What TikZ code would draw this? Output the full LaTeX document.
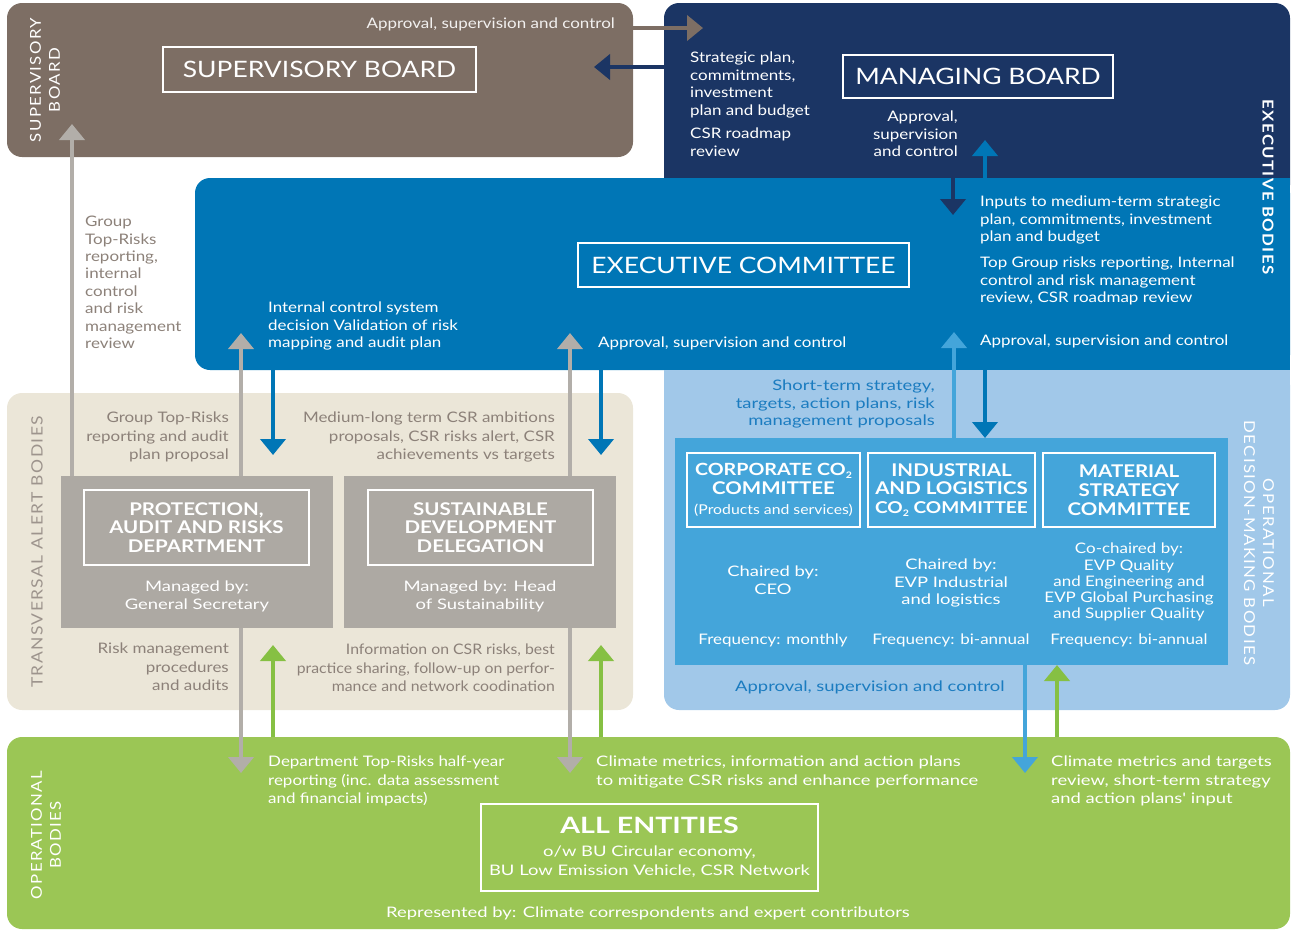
\documentclass[tikz,border=0pt]{standalone}
\usepackage{fontspec}
\setmainfont{Lato}[FakeStretch=1.17]
\newfontfamily\widefont{Lato}[FakeStretch=1.27]
\newfontfamily\narrowfont{Lato}[FakeStretch=1.09]
\newfontfamily\sidefont{Lato}[FakeStretch=1.12,LetterSpace=9]
\usetikzlibrary{arrows.meta}

\definecolor{supbrown}{HTML}{7D6E64}
\definecolor{mbnavy}{HTML}{1B3564}
\definecolor{exblue}{HTML}{0076B6}
\definecolor{opblue}{HTML}{A1C8E9}
\definecolor{cmblue}{HTML}{44A5DA}
\definecolor{tabeige}{HTML}{EBE6D8}
\definecolor{tabox}{HTML}{ADA9A3}
\definecolor{grayarrow}{HTML}{B2AEA9}
\definecolor{graytext}{HTML}{8C8179}
\definecolor{obgreen}{HTML}{9BC655}
\definecolor{greenarrow}{HTML}{86C043}
\definecolor{bluetext}{HTML}{1B7CC0}

\newcommand{\cotwo}{CO{\fontsize{9}{9}\selectfont\raisebox{-3pt}{2}}}

\tikzset{
  txt/.style={font=\fontsize{14.5}{17.4}\selectfont, inner sep=0pt},
  widetxt/.style={font=\widefont\fontsize{14.5}{17.4}\selectfont, inner sep=0pt},
  wtxt/.style={font=\fontsize{14.5}{18.5}\selectfont, inner sep=0pt},
  titlebox/.style={draw=white, line width=1.4pt, text=white, inner sep=0pt,
    font=\fontsize{22.6}{26}\selectfont},
  cmtitle/.style={draw=white, line width=1.2pt, text=white, align=center, inner sep=0pt,
    font=\bfseries\fontsize{17.5}{18.8}\selectfont},
  side/.style={text=white, align=center, inner sep=0pt, font=\sidefont\fontsize{15}{19}\selectfont},
  flow/.style={line width=4pt, -{Triangle[length=16pt,width=25pt]}},
}

\begin{document}
\begin{tikzpicture}[x=1pt,y=-1pt]
\useasboundingbox (0,0) rectangle (1292,930);

% bodies
\fill[supbrown, rounded corners=15] (7,3) rectangle (633,157);
\fill[mbnavy, rounded corners=15] (664,3) rectangle (1290,200);
\fill[exblue, rounded corners=15] (195,178) rectangle (1290,370);
\fill[exblue] (1250,178) rectangle (1290,370);
\fill[opblue, rounded corners=15] (664,370) rectangle (1290,710);
\fill[opblue] (664,370) rectangle (1290,400);
\fill[tabeige, rounded corners=15] (7,393) rectangle (633,710);
\fill[obgreen, rounded corners=15] (7,737) rectangle (1290,929);
\fill[cmblue] (675,438) rectangle (1228,665);
\fill[tabox] (61,476) rectangle (333,628);
\fill[tabox] (344,476) rectangle (616,628);

% arrow ends
\coordinate (gr0) at (72,476);   \coordinate (gr1) at (72,124);
\coordinate (sv0) at (633,28);   \coordinate (sv1) at (703,28);
\coordinate (mg0) at (664,67);   \coordinate (mg1) at (594,67);
\coordinate (ec0) at (985,178);  \coordinate (ec1) at (985,140);
\coordinate (ei0) at (953,178);  \coordinate (ei1) at (953,215);
\coordinate (pu0) at (241,476);  \coordinate (pu1) at (241,333);
\coordinate (su0) at (570,476);  \coordinate (su1) at (570,333);
\coordinate (pd0) at (273,370);  \coordinate (pd1) at (273,455);
\coordinate (sd0) at (601,370);  \coordinate (sd1) at (601,455);
\coordinate (ou0) at (954,438);  \coordinate (ou1) at (954,332);
\coordinate (od0) at (985,370);  \coordinate (od1) at (985,438);
\coordinate (pl0) at (241,628);  \coordinate (pl1) at (241,773);
\coordinate (sl0) at (570,628);  \coordinate (sl1) at (570,773);
\coordinate (pg0) at (273,737);  \coordinate (pg1) at (273,645);
\coordinate (sg0) at (601,737);  \coordinate (sg1) at (601,645);
\coordinate (cl0) at (1025,665); \coordinate (cl1) at (1025,773);
\coordinate (cg0) at (1057,737); \coordinate (cg1) at (1057,665);

\begin{scope}[every path/.style={flow}]
  \draw[grayarrow] (gr0) -- (gr1);
  \draw[supbrown] (sv0) -- (sv1);
  \draw[mbnavy] (mg0) -- (mg1);
  \draw[exblue] (ec0) -- (ec1);
  \draw[mbnavy] (ei0) -- (ei1);
  \draw[grayarrow] (pu0) -- (pu1);
  \draw[grayarrow] (su0) -- (su1);
  \draw[exblue] (pd0) -- (pd1);
  \draw[exblue] (sd0) -- (sd1);
  \draw[cmblue] (ou0) -- (ou1);
  \draw[exblue] (od0) -- (od1);
  \draw[grayarrow] (pl0) -- (pl1);
  \draw[grayarrow] (sl0) -- (sl1);
  \draw[greenarrow] (pg0) -- (pg1);
  \draw[greenarrow] (sg0) -- (sg1);
  \draw[cmblue] (cl0) -- (cl1);
  \draw[greenarrow] (cg0) -- (cg1);
\end{scope}

% supervisory board
\node[side, rotate=90] (svside) at (45,80) {SUPERVISORY\\BOARD};
\node[titlebox, minimum width=313, minimum height=45] (svboard) at (319.5,69.5) {SUPERVISORY BOARD};
\node[txt, text=white!90!supbrown, anchor=north east] (svnote) at (615,18) {Approval, supervision and control};

% managing board
\node[titlebox, minimum width=270, minimum height=43] (mgboard) at (978,76.5) {MANAGING BOARD};
\node[txt, text=white, align=left, anchor=north west] (mgplan) at (690,52) {Strategic plan,\\commitments,\\investment\\plan and budget};
\node[txt, text=white, align=left, anchor=north west] (mgcsr) at (690,128) {CSR roadmap\\review};
\node[txt, text=white, align=right, anchor=north east] (mgnote) at (958,111) {Approval,\\supervision\\and control};
\node[side, rotate=-90, font=\sidefont\bfseries\fontsize{15}{19}\selectfont] (exside) at (1268,187) {EXECUTIVE BODIES};

% executive committee
\node[titlebox, minimum width=331, minimum height=44] (excom) at (743.5,265) {EXECUTIVE COMMITTEE};
\node[txt, text=white, align=left, anchor=north west] (exin) at (980,196) {Inputs to medium-term strategic\\plan, commitments, investment\\plan and budget};
\node[txt, text=white, align=left, anchor=north west] (exrisk) at (980,257) {Top Group risks reporting, Internal\\control and risk management\\review, CSR roadmap review};
\node[txt, text=white, align=left, anchor=north west] (exctrl) at (268,302) {Internal control system\\decision Validation of risk\\mapping and audit plan};
\node[txt, text=white, anchor=north west] (exappr) at (598,337) {Approval, supervision and control};
\node[txt, text=white, anchor=north west] (exappr2) at (980,335) {Approval, supervision and control};
\node[txt, text=graytext, align=left, anchor=north west] (grnote) at (85,216) {Group\\Top-Risks\\reporting,\\internal\\control\\and risk\\management\\review};

% transversal alert bodies
\node[side, rotate=90, text=graytext!85, font=\sidefont\fontsize{15.6}{19}\selectfont] (taside) at (37,552) {TRANSVERSAL ALERT BODIES};
\node[wtxt, text=graytext, align=right, anchor=north east] (taprop) at (229,412) {Group Top-Risks\\reporting and audit\\plan proposal};
\node[wtxt, text=graytext, align=right, anchor=north east] (tacsr) at (555,412) {Medium-long term CSR ambitions\\proposals, CSR risks alert, CSR\\achievements vs targets};
\node[wtxt, text=graytext, align=right, anchor=north east] (taproc) at (229,643) {Risk management\\procedures\\and audits};
\node[wtxt, font=\narrowfont\fontsize{14.5}{18.5}\selectfont, text=graytext, align=right, anchor=north east] (tainfo) at (555,644) {Information on CSR risks, best\\practice sharing, follow-up on perfor-\\mance and network coodination};
\node[cmtitle, minimum width=225, minimum height=75] (pard) at (196.5,527.5) {PROTECTION,\\AUDIT AND RISKS\\DEPARTMENT};
\node[widetxt, text=white, align=center, anchor=north] (pardby) at (197,581) {Managed by:\\General Secretary};
\node[cmtitle, minimum width=225, minimum height=75] (sdd) at (480.5,527.5) {SUSTAINABLE\\DEVELOPMENT\\DELEGATION};
\node[widetxt, text=white, align=center, anchor=north] (sddby) at (480,581) {Managed by: Head\\of Sustainability};

% operational decision-making bodies
\node[side, rotate=-90] (opside) at (1259,543) {OPERATIONAL\\DECISION-MAKING BODIES};
\node[widetxt, text=bluetext, align=right, anchor=north east] (opprop) at (935,380) {Short-term strategy,\\targets, action plans, risk\\management proposals};
\node[widetxt, text=bluetext, anchor=north west] (opappr) at (735,681) {Approval, supervision and control};
\node[cmtitle, minimum width=173, minimum height=74] (corp) at (773.5,490) {{\fontsize{16.8}{18.8}\selectfont CORPORATE \cotwo}\\COMMITTEE\\[2pt]{\mdseries\fontsize{13.5}{16}\selectfont(Products and services)}};
\node[cmtitle, minimum width=167, minimum height=74] (indu) at (951.5,490) {INDUSTRIAL\\AND LOGISTICS\\{\fontsize{16.3}{18.8}\selectfont\cotwo{} COMMITTEE}};
\node[cmtitle, minimum width=172, minimum height=74] (matl) at (1129,490) {MATERIAL\\STRATEGY\\COMMITTEE};
\node[widetxt, text=white, align=center, anchor=north] (corpby) at (773,566) {Chaired by:\\CEO};
\node[widetxt, text=white, align=center, anchor=north] (induby) at (951,559) {Chaired by:\\EVP Industrial\\and logistics};
\node[txt, text=white, align=center, anchor=north, font=\fontsize{14.5}{16.2}\selectfont] (matlby) at (1129,543) {Co-chaired by:\\EVP Quality\\and Engineering and\\EVP Global Purchasing\\and Supplier Quality};
\node[txt, text=white, anchor=north] (corpfq) at (773,634) {Frequency: monthly};
\node[txt, text=white, anchor=north] (indufq) at (951,634) {Frequency: bi-annual};
\node[txt, text=white, anchor=north] (matlfq) at (1129,634) {Frequency: bi-annual};

% operational bodies
\node[side, rotate=90] (obside) at (46,835) {OPERATIONAL\\BODIES};
\node[wtxt, text=white, align=left, anchor=north west] (obdept) at (268,756) {Department Top-Risks half-year\\reporting (inc. data assessment\\and financial impacts)};
\node[wtxt, font=\widefont\fontsize{14.5}{18.5}\selectfont, text=white, align=left, anchor=north west] (obclim) at (596,756) {Climate metrics, information and action plans\\to mitigate CSR risks and enhance performance};
\node[wtxt, font=\widefont\fontsize{14.5}{18.5}\selectfont, text=white, align=left, anchor=north west] (obtarg) at (1051,756) {Climate metrics and targets\\review, short-term strategy\\and action plans' input};
\node[titlebox, minimum width=337, minimum height=87, align=center, font=\widefont\fontsize{14.5}{19}\selectfont] (allent) at (649.5,847.5)
  {{\bfseries\fontsize{22.5}{24}\selectfont ALL ENTITIES}\\[4pt]o/w BU Circular economy,\\BU Low Emission Vehicle, CSR Network};
\node[widetxt, text=white, anchor=north] (obrep) at (648,907) {Represented by: Climate correspondents and expert contributors};

\end{tikzpicture}
\end{document}
